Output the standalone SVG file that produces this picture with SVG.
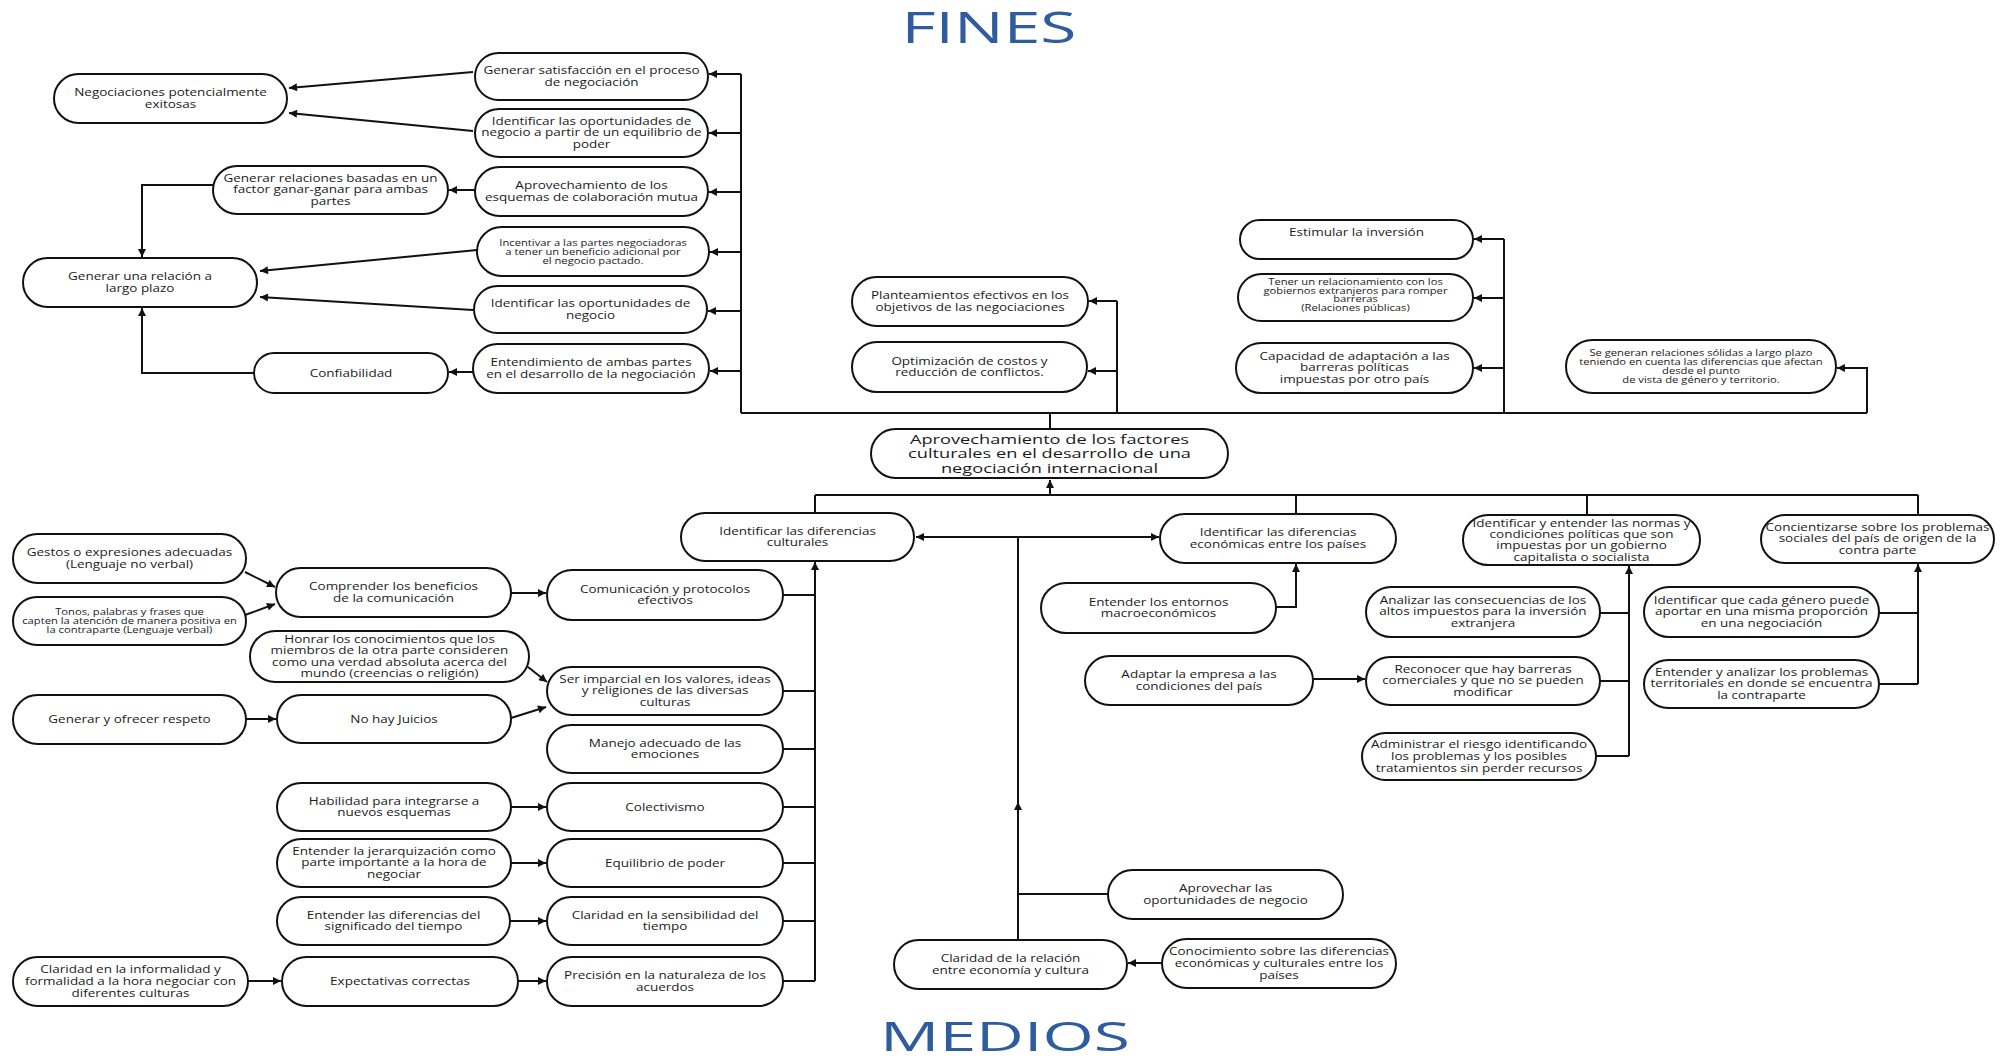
<svg xmlns="http://www.w3.org/2000/svg" width="2003" height="1063" viewBox="0 0 2003 1063">
<style>
.n rect{fill:#fff;stroke:#111;stroke-width:2}
.n text{font-family:"Open Sans","DejaVu Sans",sans-serif;font-size:10px;fill:#1a1a1a;text-anchor:middle}
.n.s text{font-size:8.3px}
.n.c text{font-size:13.5px}
.e path{fill:none;stroke:#111;stroke-width:2}
.e path.a{marker-end:url(#ah)}
.t{font-family:"Open Sans","DejaVu Sans",sans-serif;fill:#2E5C9E;text-anchor:middle}
</style>
<defs>
<marker id="ah" viewBox="0 0 10 10" refX="10" refY="5" markerWidth="9" markerHeight="8" orient="auto-start-reverse" markerUnits="userSpaceOnUse"><path d="M0,0 L10,5 L0,10 z" fill="#111"/></marker>
</defs>
<rect width="2003" height="1063" fill="#fff"/>
<text class="t" x="989" y="43" font-size="43" textLength="175" lengthAdjust="spacingAndGlyphs">FINES</text>
<text class="t" x="1005" y="1051" font-size="40" textLength="250" lengthAdjust="spacingAndGlyphs">MEDIOS</text>

<g class="e" id="connectors">
<path class="a" d="M473,72 L289,88"/>
<path class="a" d="M473,131 L289,113"/>
<path class="a" d="M475,190 L449,190"/>
<path class="a" d="M213,185 L142,185 L142,257"/>
<path class="a" d="M477,250 L260,271"/>
<path class="a" d="M473,310 L260,297"/>
<path class="a" d="M254,373 L142,373 L142,308"/>
<path class="a" d="M473,372 L449,372"/>
<path d="M741,413 L741,74"/>
<path class="a" d="M741,74 L709,74"/>
<path class="a" d="M741,133 L709,133"/>
<path class="a" d="M741,192 L709,192"/>
<path class="a" d="M741,252 L710,252"/>
<path class="a" d="M741,311 L708,311"/>
<path class="a" d="M741,371 L710,371"/>
<path d="M741,413 L1867,413"/>
<path d="M1050,413 L1050,429"/>
<path d="M1117,413 L1117,301"/>
<path class="a" d="M1117,301 L1089,301"/>
<path class="a" d="M1117,371 L1088,371"/>
<path d="M1504,413 L1504,239"/>
<path class="a" d="M1504,239 L1474,239"/>
<path class="a" d="M1504,298 L1474,298"/>
<path class="a" d="M1504,368 L1474,368"/>
<path class="a" d="M1867,413 L1867,368 L1837,368"/>
<path class="a" d="M1050,495 L1050,480"/>
<path d="M815,495 L1918,495"/>
<path d="M815,495 L815,513"/>
<path d="M1296,495 L1296,514"/>
<path d="M1587,495 L1587,515"/>
<path d="M1918,495 L1918,515"/>
<path class="a" d="M916,537 L1159,537" marker-start="url(#ah)"/>
<path class="a" d="M1018,940 L1018,802"/>
<path d="M1018,806 L1018,537"/>
<path d="M1018,894 L1108,894"/>
<path class="a" d="M1162,963 L1128,963"/>
<path class="a" d="M1276,607 L1296,607 L1296,564"/>
<path class="a" d="M1313,679 L1365,679"/>
<path class="a" d="M1629,756 L1629,566"/>
<path d="M1600,613 L1629,613"/>
<path d="M1600,681 L1629,681"/>
<path d="M1596,756 L1629,756"/>
<path class="a" d="M1918,684 L1918,564"/>
<path d="M1879,613 L1918,613"/>
<path d="M1879,684 L1918,684"/>
<path class="a" d="M815,981 L815,562"/>
<path d="M783,595 L815,595"/>
<path d="M783,691 L815,691"/>
<path d="M783,749 L815,749"/>
<path d="M783,807 L815,807"/>
<path d="M783,863 L815,863"/>
<path d="M783,921 L815,921"/>
<path d="M783,981 L815,981"/>
<path class="a" d="M511,593 L546,593"/>
<path class="a" d="M245,572 L275,587"/>
<path class="a" d="M245,615 L275,604"/>
<path class="a" d="M528,667 L547,682"/>
<path class="a" d="M511,718 L546,707"/>
<path class="a" d="M246,719 L276,719"/>
<path class="a" d="M511,807 L546,807"/>
<path class="a" d="M511,863 L546,863"/>
<path class="a" d="M510,921 L546,921"/>
<path class="a" d="M518,981 L546,981"/>
<path class="a" d="M248,981 L281,981"/>
</g>

<g class="n" id="n_negociaciones"><rect x="54" y="74" width="233" height="49" rx="24.5"/><text transform="translate(170.5,96) scale(1.35,1)"><tspan x="0">Negociaciones potencialmente</tspan><tspan x="0" dy="12">exitosas</tspan></text></g>
<g class="n" id="n_satisfaccion"><rect x="475" y="53" width="233" height="47" rx="23.5"/><text transform="translate(591.5,74) scale(1.35,1)"><tspan x="0">Generar satisfacción en el proceso</tspan><tspan x="0" dy="12">de negociación</tspan></text></g>
<g class="n" id="n_oport_poder"><rect x="475" y="109" width="233" height="48" rx="24"/><text transform="translate(591.5,124.5) scale(1.35,1)"><tspan x="0">Identificar las oportunidades de</tspan><tspan x="0" dy="12">negocio a partir de un equilibrio de</tspan><tspan x="0" dy="12">poder</tspan></text></g>
<g class="n" id="n_ganar"><rect x="213" y="166" width="235" height="48" rx="24"/><text transform="translate(330.5,181.5) scale(1.35,1)"><tspan x="0">Generar relaciones basadas en un</tspan><tspan x="0" dy="12">factor ganar-ganar para ambas</tspan><tspan x="0" dy="12">partes</tspan></text></g>
<g class="n" id="n_esquemas"><rect x="475" y="167" width="233" height="49" rx="24.5"/><text transform="translate(591.5,189) scale(1.35,1)"><tspan x="0">Aprovechamiento de los</tspan><tspan x="0" dy="12">esquemas de colaboración mutua</tspan></text></g>
<g class="n s" id="n_incentivar"><rect x="477" y="227" width="232" height="49" rx="24.5"/><text transform="translate(593,245.5) scale(1.35,1)"><tspan x="0">Incentivar a las partes negociadoras</tspan><tspan x="0" dy="9.5">a tener un beneficio adicional por</tspan><tspan x="0" dy="9.5">el negocio pactado.</tspan></text></g>
<g class="n" id="n_largo_plazo"><rect x="23" y="258" width="234" height="49" rx="24.5"/><text transform="translate(140,280) scale(1.35,1)"><tspan x="0">Generar una relación a</tspan><tspan x="0" dy="12">largo plazo</tspan></text></g>
<g class="n" id="n_oport_negocio"><rect x="474" y="286" width="233" height="47" rx="23.5"/><text transform="translate(590.5,307) scale(1.35,1)"><tspan x="0">Identificar las oportunidades de</tspan><tspan x="0" dy="12">negocio</tspan></text></g>
<g class="n" id="n_entendimiento"><rect x="473" y="344" width="236" height="49" rx="24.5"/><text transform="translate(591,366) scale(1.35,1)"><tspan x="0">Entendimiento de ambas partes</tspan><tspan x="0" dy="12">en el desarrollo de la negociación</tspan></text></g>
<g class="n" id="n_confiabilidad"><rect x="254" y="353" width="194" height="40" rx="20"/><text transform="translate(351,376.5) scale(1.35,1)"><tspan x="0">Confiabilidad</tspan></text></g>
<g class="n" id="n_planteamientos"><rect x="852" y="277" width="236" height="49" rx="24.5"/><text transform="translate(970,299) scale(1.35,1)"><tspan x="0">Planteamientos efectivos en los</tspan><tspan x="0" dy="12">objetivos de las negociaciones</tspan></text></g>
<g class="n" id="n_optimizacion"><rect x="852" y="342" width="235" height="50" rx="25"/><text transform="translate(969.5,364.5) scale(1.35,1)"><tspan x="0">Optimización de costos y</tspan><tspan x="0" dy="12">reducción de conflictos.</tspan></text></g>
<g class="n" id="n_estimular"><rect x="1240" y="220" width="233" height="39" rx="19.5"/><text transform="translate(1356.5,236) scale(1.35,1)"><tspan x="0">Estimular la inversión</tspan></text></g>
<g class="n s" id="n_relacionamiento"><rect x="1238" y="274" width="235" height="47" rx="23.5"/><text transform="translate(1355.5,284.5) scale(1.35,1)"><tspan x="0">Tener un relacionamiento con los</tspan><tspan x="0" dy="9">gobiernos extranjeros para romper</tspan><tspan x="0" dy="9">barreras</tspan><tspan x="0" dy="9">(Relaciones públicas)</tspan></text></g>
<g class="n" id="n_capacidad"><rect x="1236" y="343" width="237" height="50" rx="25"/><text transform="translate(1354.5,359.5) scale(1.35,1)"><tspan x="0">Capacidad de adaptación a las</tspan><tspan x="0" dy="12">barreras políticas</tspan><tspan x="0" dy="12">impuestas por otro país</tspan></text></g>
<g class="n s" id="n_solidas"><rect x="1566" y="340" width="270" height="53" rx="26.5"/><text transform="translate(1701,356) scale(1.35,1)"><tspan x="0">Se generan relaciones sólidas a largo plazo</tspan><tspan x="0" dy="9">teniendo  en cuenta las diferencias que afectan</tspan><tspan x="0" dy="9">desde el punto</tspan><tspan x="0" dy="9">de vista de género y territorio.</tspan></text></g>
<g class="n c" id="n_central"><rect x="871" y="429" width="357" height="49" rx="24.5"/><text transform="translate(1049.5,443.5) scale(1.35,1)"><tspan x="0">Aprovechamiento de los factores</tspan><tspan x="0" dy="15">culturales en el desarrollo de una</tspan><tspan x="0" dy="15">negociación internacional</tspan></text></g>
<g class="n" id="n_dif_culturales"><rect x="681" y="513" width="233" height="48" rx="24"/><text transform="translate(797.5,534.5) scale(1.35,1)"><tspan x="0">Identificar las diferencias</tspan><tspan x="0" dy="12">culturales</tspan></text></g>
<g class="n" id="n_dif_economicas"><rect x="1160" y="514" width="236" height="49" rx="24.5"/><text transform="translate(1278,536) scale(1.35,1)"><tspan x="0">Identificar las diferencias</tspan><tspan x="0" dy="12">económicas entre los países</tspan></text></g>
<g class="n" id="n_normas"><rect x="1463" y="515" width="237" height="50" rx="25"/><text transform="translate(1581.5,526.5) scale(1.35,1)"><tspan x="0">Identificar y entender las normas y</tspan><tspan x="0" dy="11.5">condiciones políticas que son</tspan><tspan x="0" dy="11.5">impuestas por un gobierno</tspan><tspan x="0" dy="11.5">capitalista o socialista</tspan></text></g>
<g class="n" id="n_concientizarse"><rect x="1761" y="515" width="233" height="48" rx="24"/><text transform="translate(1877.5,530.5) scale(1.35,1)"><tspan x="0">Concientizarse sobre los problemas</tspan><tspan x="0" dy="12">sociales del país de origen de la</tspan><tspan x="0" dy="12">contra parte</tspan></text></g>
<g class="n" id="n_macro"><rect x="1041" y="583" width="235" height="50" rx="25"/><text transform="translate(1158.5,605.5) scale(1.35,1)"><tspan x="0">Entender los entornos</tspan><tspan x="0" dy="12">macroeconómicos</tspan></text></g>
<g class="n" id="n_adaptar"><rect x="1085" y="656" width="228" height="49" rx="24.5"/><text transform="translate(1199,678) scale(1.35,1)"><tspan x="0">Adaptar la empresa a las</tspan><tspan x="0" dy="12">condiciones del país</tspan></text></g>
<g class="n" id="n_analizar"><rect x="1366" y="587" width="234" height="50" rx="25"/><text transform="translate(1483,603.5) scale(1.35,1)"><tspan x="0">Analizar las consecuencias de los</tspan><tspan x="0" dy="12">altos impuestos para la inversión</tspan><tspan x="0" dy="12">extranjera</tspan></text></g>
<g class="n" id="n_reconocer"><rect x="1366" y="657" width="234" height="48" rx="24"/><text transform="translate(1483,672.5) scale(1.35,1)"><tspan x="0">Reconocer que hay barreras</tspan><tspan x="0" dy="12">comerciales y que no se pueden</tspan><tspan x="0" dy="12">modificar</tspan></text></g>
<g class="n" id="n_administrar"><rect x="1362" y="733" width="234" height="47" rx="23.5"/><text transform="translate(1479,748) scale(1.35,1)"><tspan x="0">Administrar el riesgo identificando</tspan><tspan x="0" dy="12">los problemas y los posibles</tspan><tspan x="0" dy="12">tratamientos sin perder recursos</tspan></text></g>
<g class="n" id="n_genero"><rect x="1644" y="587" width="235" height="50" rx="25"/><text transform="translate(1761.5,603.5) scale(1.35,1)"><tspan x="0">Identificar que cada género puede</tspan><tspan x="0" dy="12">aportar en una misma proporción</tspan><tspan x="0" dy="12">en una negociación</tspan></text></g>
<g class="n" id="n_territoriales"><rect x="1644" y="660" width="235" height="48" rx="24"/><text transform="translate(1761.5,675.5) scale(1.35,1)"><tspan x="0">Entender y analizar los problemas</tspan><tspan x="0" dy="12">territoriales en donde se encuentra</tspan><tspan x="0" dy="12">la contraparte</tspan></text></g>
<g class="n" id="n_aprovechar"><rect x="1108" y="870" width="235" height="49" rx="24.5"/><text transform="translate(1225.5,892) scale(1.35,1)"><tspan x="0">Aprovechar las</tspan><tspan x="0" dy="12">oportunidades de negocio</tspan></text></g>
<g class="n" id="n_claridad_rel"><rect x="894" y="940" width="233" height="49" rx="24.5"/><text transform="translate(1010.5,962) scale(1.35,1)"><tspan x="0">Claridad de la relación</tspan><tspan x="0" dy="12">entre economía y cultura</tspan></text></g>
<g class="n" id="n_conocimiento"><rect x="1162" y="939" width="234" height="49" rx="24.5"/><text transform="translate(1279,955) scale(1.35,1)"><tspan x="0">Conocimiento sobre las diferencias</tspan><tspan x="0" dy="12">económicas y culturales entre los</tspan><tspan x="0" dy="12">países</tspan></text></g>
<g class="n" id="n_comunicacion"><rect x="547" y="570" width="236" height="50" rx="25"/><text transform="translate(665,592.5) scale(1.35,1)"><tspan x="0">Comunicación y protocolos</tspan><tspan x="0" dy="12">efectivos</tspan></text></g>
<g class="n" id="n_imparcial"><rect x="547" y="667" width="236" height="48" rx="24"/><text transform="translate(665,682.5) scale(1.35,1)"><tspan x="0">Ser imparcial en los valores, ideas</tspan><tspan x="0" dy="12">y religiones de las diversas</tspan><tspan x="0" dy="12">culturas</tspan></text></g>
<g class="n" id="n_emociones"><rect x="547" y="725" width="236" height="48" rx="24"/><text transform="translate(665,746.5) scale(1.35,1)"><tspan x="0">Manejo adecuado de  las</tspan><tspan x="0" dy="12">emociones</tspan></text></g>
<g class="n" id="n_colectivismo"><rect x="547" y="783" width="236" height="48" rx="24"/><text transform="translate(665,810.5) scale(1.35,1)"><tspan x="0">Colectivismo</tspan></text></g>
<g class="n" id="n_equilibrio"><rect x="547" y="839" width="236" height="48" rx="24"/><text transform="translate(665,866.5) scale(1.35,1)"><tspan x="0">Equilibrio de poder</tspan></text></g>
<g class="n" id="n_sensibilidad"><rect x="547" y="897" width="236" height="48" rx="24"/><text transform="translate(665,918.5) scale(1.35,1)"><tspan x="0">Claridad en la sensibilidad del</tspan><tspan x="0" dy="12">tiempo</tspan></text></g>
<g class="n" id="n_precision"><rect x="547" y="957" width="236" height="49" rx="24.5"/><text transform="translate(665,979) scale(1.35,1)"><tspan x="0">Precisión en la  naturaleza de los</tspan><tspan x="0" dy="12">acuerdos</tspan></text></g>
<g class="n" id="n_comprender"><rect x="276" y="568" width="235" height="49" rx="24.5"/><text transform="translate(393.5,590) scale(1.35,1)"><tspan x="0">Comprender los beneficios</tspan><tspan x="0" dy="12">de la comunicación</tspan></text></g>
<g class="n" id="n_honrar"><rect x="250" y="631" width="279" height="51" rx="25.5"/><text transform="translate(389.5,642.75) scale(1.35,1)"><tspan x="0">Honrar los conocimientos que los</tspan><tspan x="0" dy="11.5">miembros de la otra parte consideren</tspan><tspan x="0" dy="11.5">como una verdad absoluta acerca del</tspan><tspan x="0" dy="11.5">mundo (creencias o religión)</tspan></text></g>
<g class="n" id="n_juicios"><rect x="277" y="695" width="234" height="48" rx="24"/><text transform="translate(394,722.5) scale(1.35,1)"><tspan x="0">No hay Juicios</tspan></text></g>
<g class="n" id="n_habilidad"><rect x="277" y="783" width="234" height="48" rx="24"/><text transform="translate(394,804.5) scale(1.35,1)"><tspan x="0">Habilidad para integrarse a</tspan><tspan x="0" dy="12">nuevos esquemas</tspan></text></g>
<g class="n" id="n_jerarquizacion"><rect x="277" y="839" width="234" height="48" rx="24"/><text transform="translate(394,854.5) scale(1.35,1)"><tspan x="0">Entender la jerarquización como</tspan><tspan x="0" dy="12">parte importante a la hora de</tspan><tspan x="0" dy="12">negociar</tspan></text></g>
<g class="n" id="n_tiempo"><rect x="277" y="897" width="233" height="48" rx="24"/><text transform="translate(393.5,918.5) scale(1.35,1)"><tspan x="0">Entender las diferencias del</tspan><tspan x="0" dy="12">significado del tiempo</tspan></text></g>
<g class="n" id="n_expectativas"><rect x="282" y="957" width="236" height="49" rx="24.5"/><text transform="translate(400,985) scale(1.35,1)"><tspan x="0">Expectativas correctas</tspan></text></g>
<g class="n" id="n_gestos"><rect x="13" y="534" width="233" height="49" rx="24.5"/><text transform="translate(129.5,556) scale(1.35,1)"><tspan x="0">Gestos o expresiones adecuadas</tspan><tspan x="0" dy="12">(Lenguaje no verbal)</tspan></text></g>
<g class="n s" id="n_tonos"><rect x="13" y="597" width="233" height="48" rx="24"/><text transform="translate(129.5,614.5) scale(1.35,1)"><tspan x="0">Tonos, palabras y frases que</tspan><tspan x="0" dy="9.5">capten la atención de manera positiva en</tspan><tspan x="0" dy="9.5">la contraparte (Lenguaje verbal)</tspan></text></g>
<g class="n" id="n_respeto"><rect x="13" y="695" width="233" height="49" rx="24.5"/><text transform="translate(129.5,723) scale(1.35,1)"><tspan x="0">Generar y ofrecer respeto</tspan></text></g>
<g class="n" id="n_informalidad"><rect x="13" y="957" width="235" height="49" rx="24.5"/><text transform="translate(130.5,973) scale(1.35,1)"><tspan x="0">Claridad en  la informalidad y</tspan><tspan x="0" dy="12">formalidad a la hora negociar con</tspan><tspan x="0" dy="12">diferentes culturas</tspan></text></g>
</svg>
